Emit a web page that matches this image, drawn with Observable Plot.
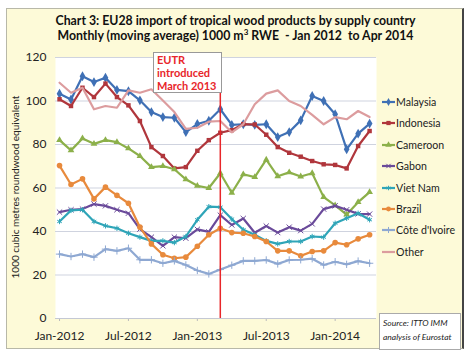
<!DOCTYPE html>
<html><head><meta charset="utf-8">
<script src="https://cdn.jsdelivr.net/npm/d3@7"></script>
<script src="https://cdn.jsdelivr.net/npm/@observablehq/plot@0.6"></script>
<style>
body{margin:0;background:#fff;font-family:Lato,"Open Sans",sans-serif;}
#wrap{position:relative;width:471px;height:357px;overflow:hidden;}
#panel{position:absolute;left:6px;top:8px;width:455px;height:339px;background:#fdfad8;border:1px solid #b8b8a8;border-right:2px solid #444;}
#title{position:absolute;left:0;width:471px;top:14px;text-align:center;font-weight:bold;font-size:12.3px;line-height:14.5px;color:#111;}
#chart{position:absolute;left:0;top:50px;}
#ylab{position:absolute;left:15px;top:187px;transform:translate(-50%,-50%) rotate(-90deg);white-space:nowrap;font-size:10px;color:#222;}
#eutr{position:absolute;left:153px;top:52px;width:64px;height:39px;background:#fff;border:1px solid #999;color:#e8262a;font-weight:bold;font-size:11px;line-height:13px;padding-left:3px;}
#legend{position:absolute;left:382px;top:0;}
.li{position:absolute;left:0;white-space:nowrap;font-size:10.6px;color:#222;display:flex;align-items:center;height:16px;}
.li svg{margin-right:1px;}
#source{position:absolute;left:379px;top:313px;width:77px;height:33px;background:#fff;border:1px solid #aaa;font-style:italic;font-size:8.5px;line-height:14px;padding-left:3px;padding-top:2px;color:#222;box-sizing:content-box;}
</style></head>
<body>
<div id="wrap">
<div id="panel"></div>
<div id="title">Chart 3: EU28 import of tropical wood products by supply country<br>Monthly (moving average) 1000 m<sup style="font-size:8px;vertical-align:5px;line-height:0">3</sup> RWE&nbsp; - Jan 2012&nbsp; to Apr 2014</div>
<div id="chart"></div>
<div id="ylab">1000 cubic metres roundwood equivalent</div>
<div id="eutr">EUTR<br>introduced<br>March 2013</div>
<div id="legend"></div>
<div id="source">Source: ITTO IMM<br>analysis of Eurostat</div>
</div>
<script>
const tickLabels = ["Jan-2012","Jul-2012","Jan-2013","Jul-2013","Jan-2014"];
const tickMonths = [0,6,12,18,24];
const yTicks = [0,20,40,60,80,100,120];
const eutrMonth = 14;
const names = ["Malaysia","Indonesia","Cameroon","Gabon","Viet Nam","Brazil","Côte d'Ivoire","Other"];
const colors = ["#3f70b5","#b0363c","#8cb04a","#6a4a9a","#2fa5b8","#e88a3c","#8ea8d2","#dc9c9e"];
const symbols = ["diamond","square","triangle","times","asterisk","circle","plus",null];

const malaysia  = [103.3,100.7,111.4,108.7,110.7,105.1,104.5,100.3,94.9,92.6,92.3,85.7,89.4,90.9,96.2,89,89.3,89,89.3,83.4,85.7,91.1,102.3,100,93.9,77.8,85,89.6];
const indonesia = [100.8,97.7,106.1,101.8,108,101.8,98,90.8,78.8,74.7,69,69.6,77.1,82,85.4,86.6,89.4,89.2,84.5,78.8,76.2,74.4,72.4,70.9,70.6,69,79.3,86.2];
const cameroon  = [82,77.3,82.8,80.3,82,81.1,78.2,74.7,69.6,70.1,68.6,64,61,60,66.8,57.8,66.3,65,73,65.4,67.2,65.3,66.8,55.8,52,47.8,53.5,58.1];
const gabon     = [48.9,50,50.3,52.6,51.8,50,48.4,41.1,37.4,33.4,37.4,36.9,41,39.8,47.5,43,46,39.4,42.5,39.5,42,40.4,43.5,50.3,51.8,50,48.1,48];
const vietnam   = [44.6,49.7,50,44.6,42.6,41.5,39.2,37.4,35.7,35.7,34.9,37.7,45.4,51.4,51.2,45.7,40.8,38.5,35.7,34.3,35.4,35.4,37.7,37.4,43.8,46.1,48.4,45.4];
const brazil    = [70.3,61.6,64.2,55,60.4,56.6,53,42,34.3,29.3,27.7,28.2,33.2,38.5,41.5,39.5,39.2,37.7,35.4,31.1,31.1,28.8,30.8,31.1,34.9,33.9,36.6,38.5];
const cote      = [29.6,28.5,29.6,28.2,31.9,31.1,32.3,27,27,25.4,26.5,24.6,22.1,20.5,22.5,24.5,26.5,26.5,26.9,25.1,26.9,27,27.5,24.6,26.1,24.9,26.4,25.4];
const other     = [108.4,103.8,106.1,96.2,97.7,96.9,104.9,103.8,105.4,100.2,94.9,87.2,87.7,90.5,90.8,85.6,89.3,98.5,103.4,104.9,100,97.7,93.6,89.3,92.6,91.6,95.4,92.6];

const seriesValues = [malaysia,indonesia,cameroon,gabon,vietnam,brazil,cote,other];
const data = [];
names.forEach((n,k)=>seriesValues[k].forEach((v,i)=>data.push({name:n,i,v})));

const marks = [
  Plot.frame({fill:"white", stroke:null}),
  Plot.gridY(yTicks,{stroke:"#cfd3df",strokeOpacity:1}),
  Plot.axisY(yTicks,{tickSize:0,tickPadding:9,label:null,fontSize:12}),
  Plot.axisX(tickMonths,{tickSize:3,tickPadding:10,label:null,fontSize:12,tickFormat:(d)=>tickLabels[tickMonths.indexOf(d)],stroke:"#bbb"}),
  Plot.ruleY([0],{stroke:"#c4c8d4"}),
];
names.forEach((n,k)=>{
  const d = data.filter(r=>r.name===n);
  marks.push(Plot.line(d,{x:"i",y:"v",stroke:colors[k],strokeWidth:2.2}));
  if(symbols[k]){
    const filled = ["diamond","square","triangle","circle"].includes(symbols[k]);
    marks.push(Plot.dot(d,{x:"i",y:"v",symbol:symbols[k],r:symbols[k]==="diamond"?3:(symbols[k]==="circle"?2.8:2.5),
      fill:filled?colors[k]:"none",stroke:colors[k],strokeWidth:filled?0:1}));
  }
});
marks.push(Plot.ruleX([eutrMonth],{stroke:"#e8262a",strokeWidth:1.5}));

const chart = Plot.plot({
  width:471,height:300,marginLeft:55,marginRight:95,marginTop:7,marginBottom:32,
  style:{background:"transparent",fontFamily:"Lato, sans-serif",color:"#222",fontSize:"12px"},
  x:{domain:[-0.35,27.6]},
  y:{domain:[0,120]},
  marks
});
document.getElementById("chart").appendChild(chart);

// legend
const leg = document.getElementById("legend");
names.forEach((n,k)=>{
  const div = document.createElement("div");
  div.className="li";
  div.style.top = (94 + k*21.4) + "px";
  const svg = d3.create("svg").attr("width",13).attr("height",10);
  svg.append("line").attr("x1",0).attr("x2",13).attr("y1",5).attr("y2",5).attr("stroke",colors[k]).attr("stroke-width",2.2);
  if(symbols[k]){
    const filled = ["diamond","square","triangle","circle"].includes(symbols[k]);
    const symMap={diamond:d3.symbolDiamond,square:d3.symbolSquare,triangle:d3.symbolTriangle,circle:d3.symbolCircle,times:d3.symbolTimes,asterisk:d3.symbolAsterisk,plus:d3.symbolPlus};
    svg.append("path").attr("transform","translate(6.5,5)").attr("d",d3.symbol(symMap[symbols[k]],filled?18:14)())
      .attr("fill",filled?colors[k]:"none").attr("stroke",colors[k]).attr("stroke-width",filled?0:1);
  }
  div.appendChild(svg.node());
  const t=document.createElement("span"); t.textContent=n; div.appendChild(t);
  leg.appendChild(div);
});
</script>
</body></html>
